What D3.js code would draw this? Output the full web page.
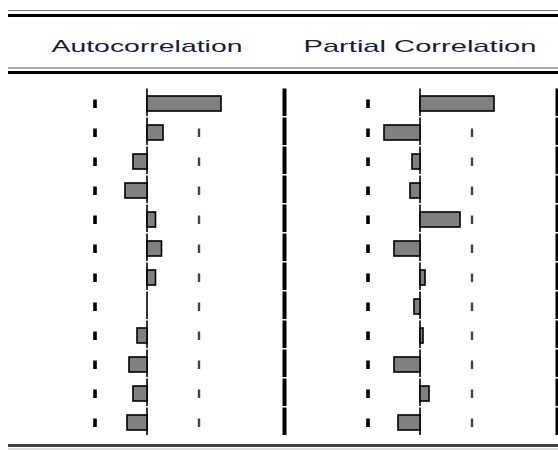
<!DOCTYPE html>
<html>
<head>
<meta charset="utf-8">
<script src="https://cdn.jsdelivr.net/npm/d3@7"></script>
<style>
  body { margin: 0; background: #fff; }
  svg { display: block; }
</style>
</head>
<body>
<script>
// correlogram values, lags 1..12
const lags = [1, 2, 3, 4, 5, 6, 7, 8, 9, 10, 11, 12];
const acf = [0.74, 0.16, -0.14, -0.22, 0.085, 0.145, 0.085, 0.0, -0.10, -0.18, -0.14, -0.20];
const pacf = [0.74, -0.36, -0.08, -0.10, 0.40, -0.26, 0.05, -0.06, 0.03, -0.26, 0.09, -0.22];
const bound = 0.52;   // +/- 2 s.e.
const headers = ["Autocorrelation", "Partial Correlation"];

const width = 558, height = 450;

const svg = d3.select("body")
    .append("svg")
      .attr("width", width)
      .attr("height", height);

// rows
const yScale = d3.scaleBand()
    .domain(lags)
    .range([89, 89 + 29 * lags.length]);

const barH = 15;

// two panels, one zero line each
const panels = [
  {title: headers[0], values: acf, x: d3.scaleLinear().domain([-1, 1]).range([47, 247]), textW: 191},
  {title: headers[1], values: pacf, x: d3.scaleLinear().domain([-1, 1]).range([320, 520]), textW: 233}
];

// horizontal rules
const rule = (y, w, c) => svg.append("line")
    .attr("x1", 8).attr("x2", width)
    .attr("y1", y).attr("y2", y)
    .attr("stroke", c).attr("stroke-width", w);

rule(10.5, 1.2, "#777");
rule(15.5, 3, "#000");
rule(68, 1.2, "#555");
rule(72.5, 3, "#000");
rule(445.5, 3, "#444");
rule(449, 1, "#bbb");

// vertical separators, broken between rows
const separators = [284.5, 557];
separators.forEach(sx => {
  svg.append("g")
    .selectAll("line")
    .data(lags)
    .enter()
    .append("line")
      .attr("x1", sx).attr("x2", sx)
      .attr("y1", d => yScale(d) - 0.5)
      .attr("y2", d => yScale(d) + 27)
      .attr("stroke", "#000")
      .attr("stroke-width", sx > 500 ? 3 : 4);
});

panels.forEach(p => {
  const x0 = p.x(0);

  // header
  svg.append("text")
      .attr("x", x0 - p.textW / 2)
      .attr("y", 52)
      .attr("textLength", p.textW)
      .attr("lengthAdjust", "spacingAndGlyphs")
      .style("font-family", "'Liberation Sans', Arial, sans-serif")
      .style("font-size", "17px")
      .style("fill", "#1a1a3a")
      .text(p.title);

  const g = svg.append("g");

  // zero line pieces
  g.selectAll(".zero")
    .data(lags)
    .enter()
    .append("line")
      .attr("class", "zero")
      .attr("x1", x0).attr("x2", x0)
      .attr("y1", d => yScale(d) - 0.5)
      .attr("y2", d => yScale(d) + 27)
      .attr("stroke", "#000")
      .attr("stroke-width", 1.6);

  // lower bound dashes
  g.selectAll(".lo")
    .data(lags)
    .enter()
    .append("rect")
      .attr("class", "lo")
      .attr("x", p.x(-bound) - 1.8)
      .attr("y", d => yScale(d) + 14.5 - 4)
      .attr("width", 3.6)
      .attr("height", 8.5)
      .attr("fill", "#000");

  // upper bound dashes
  g.selectAll(".hi")
    .data(lags)
    .enter()
    .append("rect")
      .attr("class", "hi")
      .attr("x", p.x(bound) - 1.2)
      .attr("y", d => yScale(d) + 14.5 - 4)
      .attr("width", 2.4)
      .attr("height", 8.5)
      .attr("fill", "#444");

  // bars
  g.selectAll(".bar")
    .data(lags.map((d, i) => ({lag: d, v: p.values[i]})))
    .enter()
    .append("rect")
      .attr("class", "bar")
      .attr("x", d => Math.min(p.x(d.v), x0))
      .attr("y", d => yScale(d.lag) + 14.5 - barH / 2)
      .attr("width", d => Math.abs(p.x(d.v) - x0))
      .attr("height", barH)
      .attr("fill", "#808080")
      .attr("stroke", "#000")
      .attr("stroke-width", 1.6)
      .style("display", d => Math.abs(d.v) < 0.005 ? "none" : null);
});
</script>
</body>
</html>
